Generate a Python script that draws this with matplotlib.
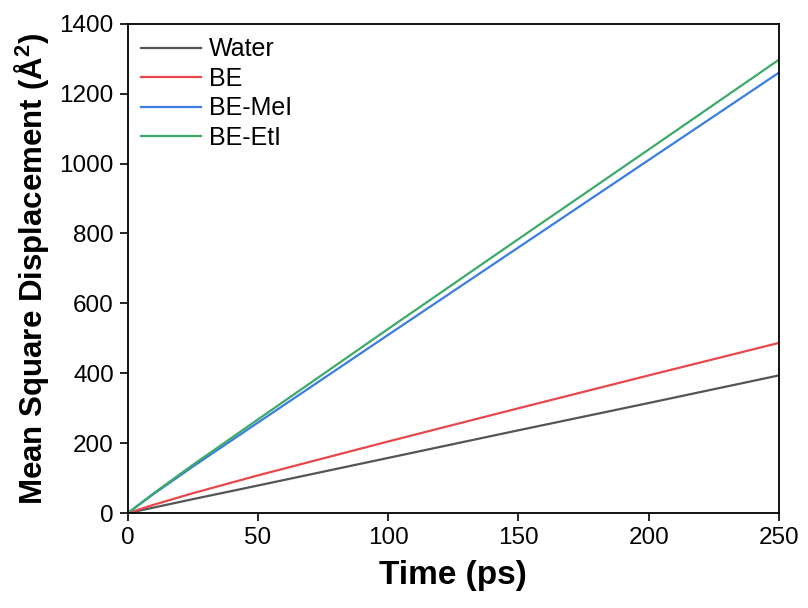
import numpy as np
from matplotlib import pyplot as plt

plt.rcParams['font.family'] = ['Liberation Sans', 'DejaVu Sans']
plt.rcParams['mathtext.fontset'] = 'custom'
plt.rcParams['mathtext.rm'] = 'Liberation Sans'
plt.rcParams['mathtext.bf'] = 'Liberation Sans:bold'

# MSD curves (ps -> A^2)
time = [0, 10, 25, 50, 100, 150, 200, 250]
msd_water = [0, 16, 40, 79, 158, 237, 315, 394]
msd_be = [0, 24, 57, 108, 205, 300, 394, 487]
msd_bemei = [0, 55, 133, 259, 510, 760, 1010, 1260]
msd_beeti = [0, 57, 138, 268, 527, 784, 1040, 1297]

labels = ['Water', 'BE', 'BE-MeI', 'BE-EtI']
colors = ['#555555', '#e8474c', '#3b7de0', '#3daa6a']

fig = plt.figure(figsize=(8.08, 6.08), dpi=100)
ax = fig.add_axes([0.158, 0.156, 0.806, 0.805])

for y, lab, c in zip([msd_water, msd_be, msd_bemei, msd_beeti], labels, colors):
    ax.plot(time, y, color=c, lw=1.6, label=lab)

ax.set_xlim(0, 250)
ax.set_ylim(0, 1400)
ax.set_xticks(np.arange(0, 251, 50))
ax.set_yticks(np.arange(0, 1401, 200))
ax.tick_params(direction='out', length=6, width=1.2, labelsize=17.5, pad=4)
for s in ax.spines.values():
    s.set_linewidth(1.3)

ax.set_xlabel('Time (ps)', fontsize=24, fontweight='bold', labelpad=8)
ax.set_ylabel(r'Mean Square Displacement (Å$\mathbf{^2}$)', fontsize=22.5,
              fontweight='bold', labelpad=6)

ax.legend(loc='upper left', frameon=False, fontsize=18, handlelength=2.4,
          labelspacing=0.22, borderaxespad=0.15, handletextpad=0.3)

plt.savefig('out.png', dpi=100)
